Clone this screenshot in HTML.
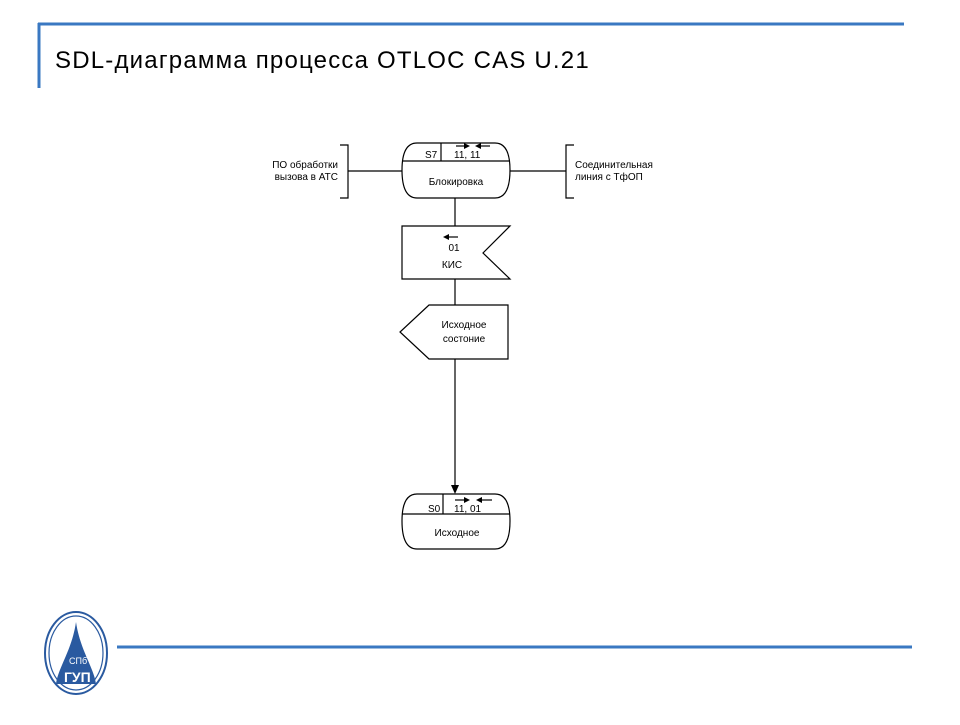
<!DOCTYPE html>
<html><head><meta charset="utf-8"><style>
body{margin:0;background:#fff;width:960px;height:720px;overflow:hidden;}
</style></head><body>
<svg width="960" height="720" xmlns="http://www.w3.org/2000/svg" font-family="Liberation Sans, sans-serif">
<line x1="38" y1="24" x2="904" y2="24" stroke="#3a78c2" stroke-width="3"/>
<line x1="39" y1="23" x2="39" y2="88" stroke="#3a78c2" stroke-width="3"/>
<text x="55" y="68" font-size="24" letter-spacing="1.2" fill="#000">SDL-диаграмма процесса OTLOC CAS U.21</text>
<line x1="117" y1="647" x2="912" y2="647" stroke="#3a78c2" stroke-width="3"/>
<ellipse cx="76" cy="653" rx="31" ry="41" fill="none" stroke="#2a5aa0" stroke-width="2"/>
<ellipse cx="76" cy="653" rx="27" ry="37" fill="none" stroke="#2a5aa0" stroke-width="1.2"/>
<path d="M76 622 C72 650 58 668 56 684 L96 684 C94 668 80 650 76 622Z" fill="#2a5aa0"/>
<text x="69" y="664" font-size="9" fill="#fff">СПб</text>
<text x="64" y="682" font-size="14" font-weight="bold" fill="#fff">ГУП</text>
<g stroke="#000" stroke-width="1.2" fill="none">
<path d="M417 143 L495 143 Q510 143 510 170 Q510 198 495 198 L417 198 Q402 198 402 170 Q402 143 417 143Z"/>
<line x1="402" y1="161" x2="510" y2="161"/>
<line x1="441" y1="143" x2="441" y2="161"/>
<line x1="348" y1="171" x2="402" y2="171"/>
<path d="M340 145 L348 145 L348 198 L340 198"/>
<line x1="510" y1="171" x2="566" y2="171"/>
<path d="M574 145 L566 145 L566 198 L574 198"/>
<line x1="455" y1="198" x2="455" y2="226"/>
<path d="M402 226 L510 226 L483 253 L510 279 L402 279Z"/>
<line x1="455" y1="279" x2="455" y2="305"/>
<path d="M429 305 L508 305 L508 359 L429 359 L400 332Z"/>
<line x1="455" y1="359" x2="455" y2="487"/>
<path d="M417 494 L495 494 Q510 494 510 521 Q510 549 495 549 L417 549 Q402 549 402 521 Q402 494 417 494Z"/>
<line x1="402" y1="514" x2="510" y2="514"/>
<line x1="443" y1="494" x2="443" y2="514"/>
<line x1="456" y1="146" x2="466" y2="146"/><line x1="478" y1="146" x2="490" y2="146"/>
<line x1="446" y1="237" x2="458" y2="237"/>
<line x1="455" y1="500" x2="466" y2="500"/><line x1="480" y1="500" x2="492" y2="500"/>
</g>
<g fill="#000">
<path d="M470 146 L464 143 L464 149Z"/><path d="M475 146 L481 143 L481 149Z"/>
<path d="M443 237 L449 234 L449 240Z"/>
<path d="M470 500 L464 497 L464 503Z"/><path d="M476 500 L482 497 L482 503Z"/>
<path d="M455 494 L451 485 L459 485Z"/>
</g>
<g font-size="10" fill="#000">
<text x="425" y="158">S7</text><text x="454" y="158">11, 11</text>
<text x="456" y="185" text-anchor="middle">Блокировка</text>
<text x="338" y="168" text-anchor="end">ПО обработки</text>
<text x="338" y="180" text-anchor="end">вызова в АТС</text>
<text x="575" y="168">Соединительная</text>
<text x="575" y="180">линия с ТфОП</text>
<text x="454" y="251" text-anchor="middle">01</text>
<text x="452" y="268" text-anchor="middle">КИС</text>
<text x="464" y="328" text-anchor="middle">Исходное</text>
<text x="464" y="342" text-anchor="middle">состоние</text>
<text x="428" y="512">S0</text><text x="454" y="512">11, 01</text>
<text x="457" y="536" text-anchor="middle">Исходное</text>
</g>
</svg>
</body></html>
